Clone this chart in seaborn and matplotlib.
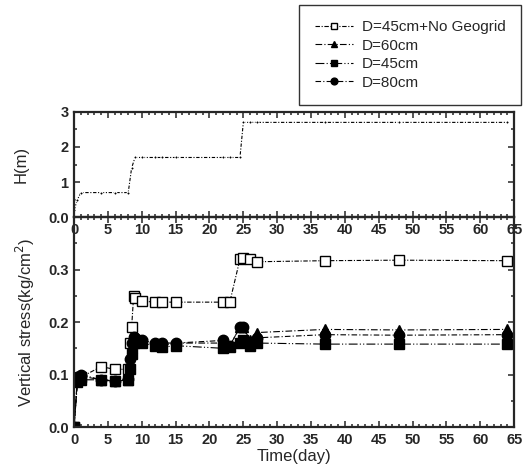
import matplotlib
matplotlib.use("Agg")
import matplotlib.pyplot as plt
from matplotlib.ticker import MultipleLocator, FuncFormatter
import seaborn as sns
import pandas as pd

sns.set_style("ticks")
plt.rcParams['font.family'] = ['Liberation Sans', 'DejaVu Sans']

# Fill height over time
h_day = [0, 0.5, 1, 4, 6, 8, 8.5, 9, 10, 12, 13, 15, 22, 23, 24.5, 25, 26, 27, 37, 48, 64]
h_m = [0.2, 0.5, 0.7, 0.7, 0.7, 0.7, 1.4, 1.7, 1.7, 1.7, 1.7, 1.7, 1.7, 1.7, 1.7, 2.7, 2.7, 2.7, 2.7, 2.7, 2.7]

# Vertical stress readings
s_day = [0, 0.5, 1, 4, 6, 8, 8.2, 8.5, 8.8, 9, 10, 12, 13, 15, 22, 23, 24.5, 25, 26, 27, 37, 48, 64]
no_geogrid = [0, 0.09, 0.095, 0.115, 0.11, 0.11, 0.16, 0.19, 0.25, 0.245, 0.24, 0.238, 0.238, 0.238,
              0.238, 0.238, 0.32, 0.322, 0.321, 0.315, 0.317, 0.318, 0.317]
d60 = [0, 0.09, 0.097, 0.09, 0.088, 0.09, 0.12, 0.15, 0.165, 0.17, 0.165, 0.16, 0.155, 0.16,
       0.16, 0.155, 0.19, 0.19, 0.165, 0.18, 0.186, 0.185, 0.186]
d45 = [0, 0.085, 0.09, 0.09, 0.087, 0.09, 0.11, 0.14, 0.16, 0.165, 0.16, 0.155, 0.152, 0.155,
       0.15, 0.152, 0.16, 0.165, 0.155, 0.16, 0.158, 0.158, 0.158]
d80 = [0, 0.095, 0.1, 0.09, 0.088, 0.092, 0.13, 0.16, 0.172, 0.17, 0.165, 0.16, 0.16, 0.16,
       0.165, 0.155, 0.19, 0.19, 0.16, 0.17, 0.176, 0.175, 0.176]

series = [
    ("D=45cm+No Geogrid", no_geogrid, "s", "white", 6.5, (0, (4, 1.5, 1, 1.5))),
    ("D=60cm", d60, "^", "black", 7, (0, (6, 2, 1, 2))),
    ("D=45cm", d45, "s", "black", 6.5, (0, (8, 2, 1, 2, 1, 2))),
    ("D=80cm", d80, "o", "black", 7.5, (0, (5, 2, 1, 2))),
]

fig = plt.figure(figsize=(5.29, 4.68), dpi=100)
ax_s = fig.add_axes([0.140, 0.0876, 0.832, 0.4484])
ax_h = fig.add_axes([0.140, 0.536, 0.832, 0.225])
ax_h.set_zorder(3)
ax_h.patch.set_alpha(0)

sns.lineplot(x=h_day, y=h_m, ax=ax_h, color="black", lw=0.8, linestyle=(0, (3, 1.5, 1, 1.5)),
             marker="o", markersize=2.2, sort=False, estimator=None)

for label, vals, mk, fc, ms, ls in series:
    sns.lineplot(x=s_day, y=vals, ax=ax_s, color="black", lw=0.8, linestyle=ls,
                 marker=mk, markersize=ms, markerfacecolor=fc, markeredgecolor="black",
                 markeredgewidth=1.0, sort=False, estimator=None, label=label)

for ax in (ax_h, ax_s):
    ax.set_xlim(0, 65)
    ax.xaxis.set_major_locator(MultipleLocator(5))
    ax.xaxis.set_minor_locator(MultipleLocator(1))
    ax.tick_params(which="both", direction="in", top=True, right=True, width=1.1)
    ax.tick_params(which="major", length=4, labelsize=10.5, pad=4)
    ax.tick_params(which="minor", length=2)
    for sp in ax.spines.values():
        sp.set_linewidth(1.6)

ax_h.set_ylim(0, 3)
ax_h.yaxis.set_major_locator(MultipleLocator(1))
ax_h.yaxis.set_minor_locator(MultipleLocator(0.5))
ax_h.yaxis.set_major_formatter(FuncFormatter(lambda v, p: "0.0" if v == 0 else f"{v:.0f}"))
ax_h.set_ylabel("H(m)", fontsize=12, labelpad=14)
ax_h.set_xlabel("")

ax_s.set_ylim(0, 0.4)
ax_s.yaxis.set_major_locator(MultipleLocator(0.1))
ax_s.yaxis.set_minor_locator(MultipleLocator(0.05))
ax_s.yaxis.set_major_formatter(FuncFormatter(lambda v, p: "" if v > 0.35 else f"{v:.1f}"))
ax_s.set_ylabel("Vertical stress(kg/cm$^2$)", fontsize=12, labelpad=8)
ax_s.set_xlabel("Time(day)", fontsize=12, labelpad=2)

fig.canvas.draw()
for ax in (ax_h, ax_s):
    for t in ax.get_xticklabels() + ax.get_yticklabels():
        t.set_fontweight("bold")

handles, labels = ax_s.get_legend_handles_labels()
ax_s.get_legend().remove()
leg = fig.legend(handles, labels, loc="upper right", bbox_to_anchor=(0.985, 0.99),
                 frameon=True, fancybox=False, edgecolor="black", fontsize=11,
                 handlelength=2.5, handletextpad=0.6, markerscale=0.65, borderpad=1.0,
                 labelspacing=0.3, borderaxespad=0)
leg.get_frame().set_linewidth(1.0)

fig.savefig("out.png", dpi=100)
